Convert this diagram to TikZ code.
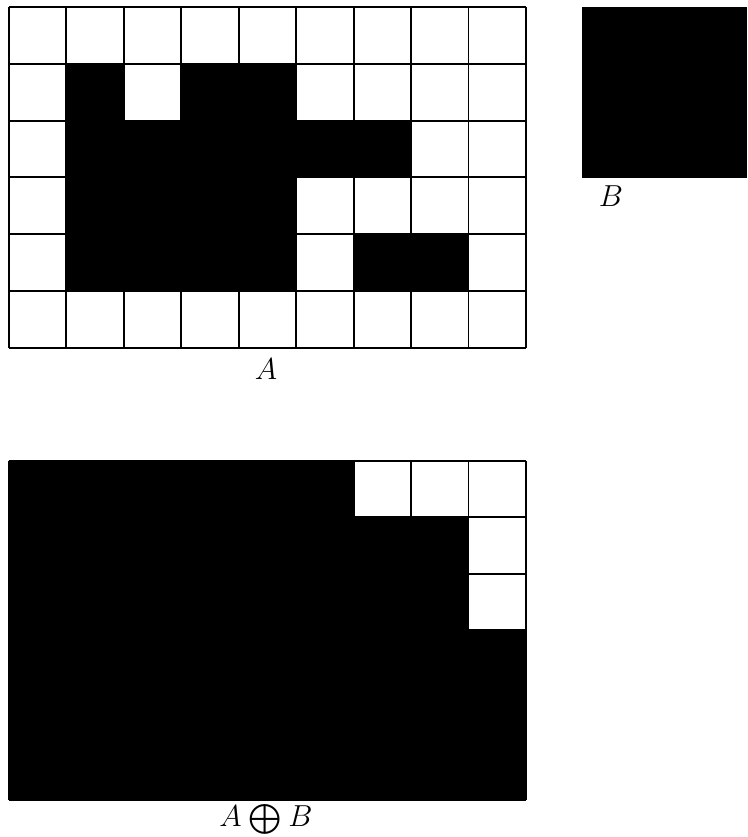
\documentclass[tikz,border=0pt]{standalone}
\usepackage{amsmath,amssymb}
\usepackage{tikz}
\usetikzlibrary{positioning}

\tikzset{
    gridline/.style={draw=black, line width=1.1pt},
    setlabel/.style={font=\fontsize{17}{20}\selectfont, inner sep=0pt},
}

\begin{document}
\begin{tikzpicture}[x=0.02cm, y=-0.02cm]
    \useasboundingbox[fill=white] (0,0) rectangle (747,837);

    % Set A (9 x 6 cells)
    \begin{scope}[shift={(0.18cm,-0.14cm)}, x=1.1489cm, y=-1.136cm]
        \foreach \c in {0,...,9} \draw[gridline] (\c,0) -- (\c,6);
        \foreach \r in {0,...,6} \draw[gridline] (0,\r) -- (9,\r);
        \foreach \c/\r in {1/1, 3/1, 4/1,
                           1/2, 2/2, 3/2, 4/2, 5/2, 6/2,
                           1/3, 2/3, 3/3, 4/3,
                           1/4, 2/4, 3/4, 4/4, 6/4, 7/4} {
            \fill[black] (\c,\r) rectangle ++(1,1);
        }
    \end{scope}
    \node[setlabel] (labelA) at (266,369) {$A$};

    % Structuring element B
    \fill[black] (582,7) rectangle (747,178);
    \node[setlabel] (labelB) at (611,196) {$B$};

    % Dilation result
    \begin{scope}[shift={(0.18cm,-9.22cm)}, x=1.1489cm, y=-1.13cm]
        \foreach \c in {0,...,9} \draw[gridline] (\c,0) -- (\c,6);
        \foreach \r in {0,...,6} \draw[gridline] (0,\r) -- (9,\r);
        \fill[black] (0,0) -- (6,0) -- (6,1) -- (8,1) -- (8,3) -- (9,3) -- (9,6) -- (0,6) -- cycle;
    \end{scope}
    \node[setlabel] (labelAB) at (266,819) {$A \mathbin{\bigoplus} B$};
\end{tikzpicture}
\end{document}
